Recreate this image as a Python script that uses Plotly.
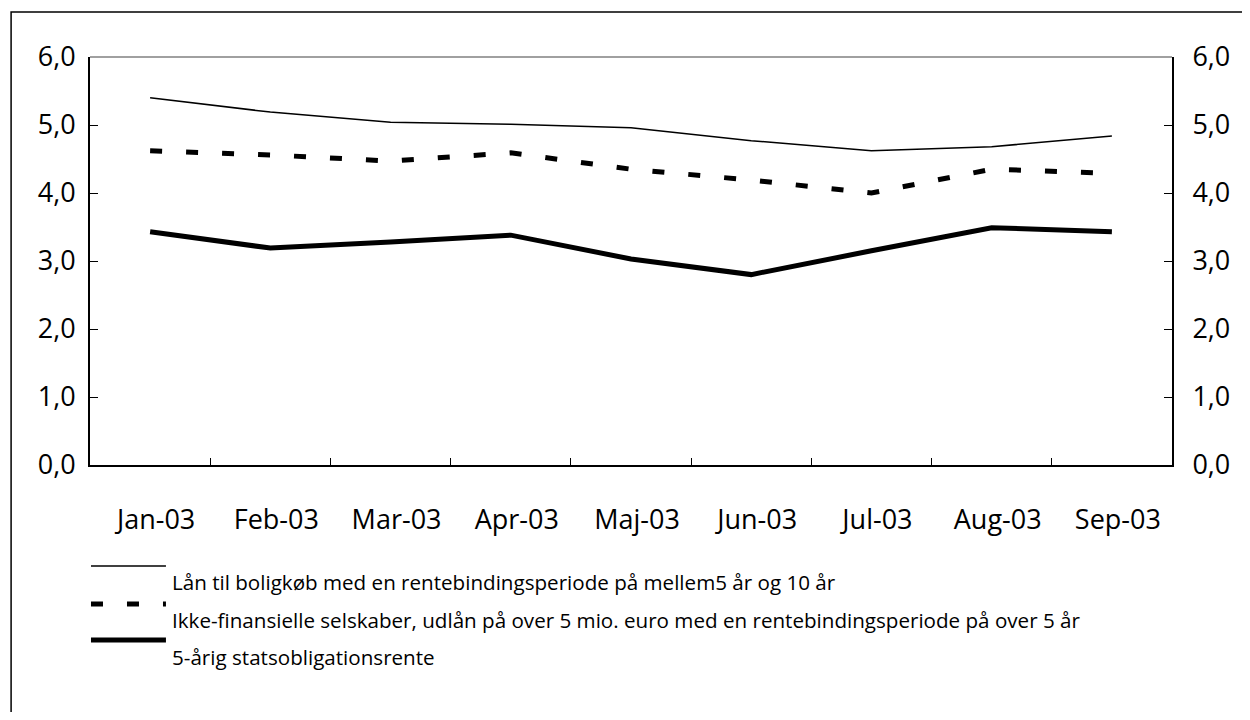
import plotly.graph_objects as go

months = ["Jan-03", "Feb-03", "Mar-03", "Apr-03", "Maj-03", "Jun-03", "Jul-03", "Aug-03", "Sep-03"]
bolig = [5.40, 5.19, 5.04, 5.01, 4.96, 4.77, 4.62, 4.68, 4.84]
selskaber = [4.62, 4.56, 4.47, 4.59, 4.35, 4.19, 4.00, 4.35, 4.29]
stat = [3.43, 3.19, 3.28, 3.38, 3.03, 2.80, 3.15, 3.49, 3.43]
names = [
    "Lån til boligkøb med en rentebindingsperiode på mellem5 år og 10 år",
    "Ikke-finansielle selskaber, udlån på over 5 mio. euro med en rentebindingsperiode på over 5 år",
    "5-årig statsobligationsrente",
]
yticks = [0, 1, 2, 3, 4, 5, 6]

OFF = 8  # default body margin of the html page
W, H = 1250 - 2 * OFF, 720 - 2 * OFF
L, R, T, B = 90 - OFF, 1187 - OFF, 57 - OFF, 465 - OFF
FONT = "Open Sans"


def px(x):
    return (x - OFF - L) / (R - L)


def py(y):
    return (B - (y - OFF)) / (B - T)


fig = go.Figure()
fig.add_trace(go.Scatter(x=months, y=bolig, mode="lines", name=names[0],
                         line=dict(color="black", width=1.5), yaxis="y"))
fig.add_trace(go.Scatter(x=months, y=selskaber, mode="lines", name=names[1],
                         line=dict(color="black", width=5, dash="12px,24px"), yaxis="y"))
fig.add_trace(go.Scatter(x=months, y=stat, mode="lines", name=names[2],
                         line=dict(color="black", width=5), yaxis="y2"))

axis_font = dict(family=FONT, size=27, color="black")

fig.update_layout(
    width=W, height=H,
    margin=dict(l=L, r=W - R, t=T, b=H - B),
    paper_bgcolor="white", plot_bgcolor="white",
    showlegend=False,
    separators=",.",
    font=dict(family=FONT, color="black"),
    xaxis=dict(
        type="category", range=[-0.5, 8.5],
        showline=True, linecolor="black", linewidth=2,
        ticks="inside", tickson="boundaries", ticklen=7, tickcolor="black", tickwidth=1,
        showgrid=False, zeroline=False,
        tickfont=axis_font, ticklabelstandoff=30, ticklabelshift=6,
    ),
    yaxis=dict(
        range=[0, 6], tickvals=yticks, tickformat=".1f",
        showline=True, linecolor="black", linewidth=2,
        ticks="inside", ticklen=8, tickcolor="black", tickwidth=1,
        showgrid=False, zeroline=False,
        tickfont=axis_font, ticklabelstandoff=7,
    ),
    yaxis2=dict(
        range=[0, 6], tickvals=yticks, tickformat=".1f",
        overlaying="y", side="right", matches="y",
        showline=True, linecolor="black", linewidth=2,
        ticks="inside", ticklen=8, tickcolor="black", tickwidth=1,
        showgrid=False, zeroline=False,
        tickfont=axis_font, ticklabelstandoff=13,
    ),
)

shapes = []
# top border of plot area
shapes.append(dict(type="line", xref="paper", yref="paper", x0=0, x1=1, y0=1, y1=1,
                   line=dict(color="#808080", width=1.5)))
# outer frame
shapes.append(dict(type="rect", xref="paper", yref="paper",
                   x0=px(10), x1=px(1270), y0=py(740), y1=py(12),
                   line=dict(color="black", width=1.5), fillcolor="rgba(0,0,0,0)", layer="below"))
# legend samples
legend_rows = [(566, 582, 1.5, "solid"), (604, 620, 5, "12px,24px"), (640, 657, 5, "solid")]
for i, (ly, ty, w, d) in enumerate(legend_rows):
    shapes.append(dict(type="line", xref="paper", yref="paper",
                       x0=px(91), x1=px(167), y0=py(ly), y1=py(ly),
                       line=dict(color="black", width=w, dash=d)))
    fig.add_annotation(xref="paper", yref="paper", x=px(171), y=py(ty),
                       xanchor="left", yanchor="middle", showarrow=False,
                       text=names[i], font=dict(family=FONT, size=20.6, color="black"))
fig.update_layout(shapes=shapes)

fig.write_html("out.html")
